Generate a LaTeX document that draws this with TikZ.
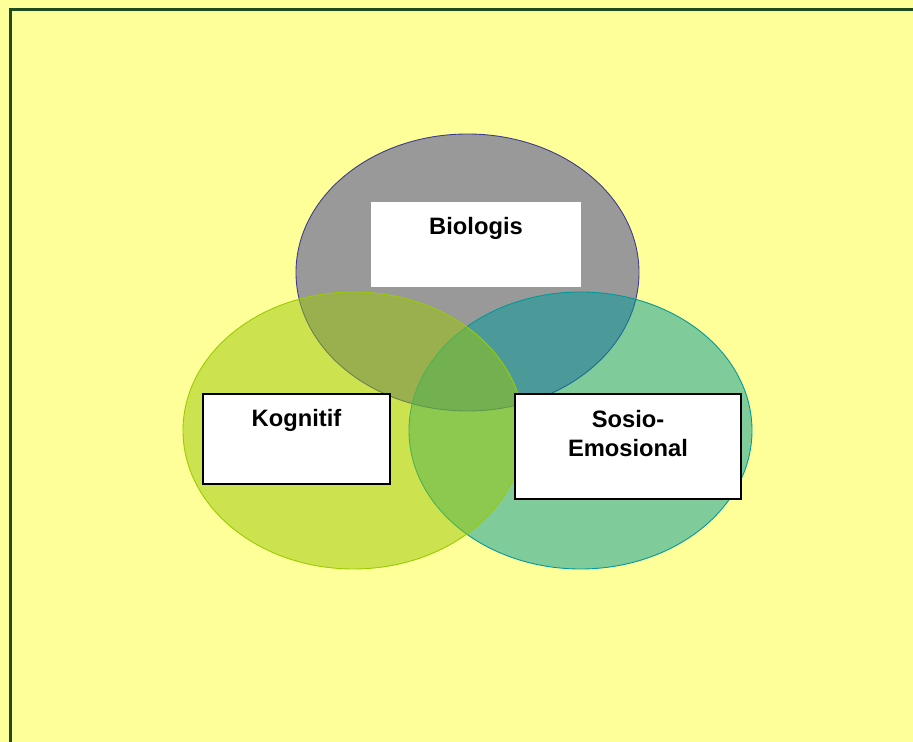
\documentclass[tikz,border=0pt]{standalone}
\usepackage{fontspec}
\setmainfont{Liberation Sans}
\definecolor{bgyellow}{HTML}{FFFF99}
\definecolor{framegreen}{HTML}{1E4B1E}
\definecolor{biogray}{HTML}{999999}
\definecolor{bioline}{HTML}{3B3B8F}
\definecolor{kogfill}{RGB}{155,199,7}
\definecolor{kogline}{HTML}{99CC00}
\definecolor{sosfill}{RGB}{0,153,153}
\definecolor{sosline}{HTML}{009999}
\begin{document}
\begin{tikzpicture}[x=0.2mm, y=-0.2mm,
    labelbox/.style={rectangle, fill=white, inner sep=0pt},
    labeltext/.style={font=\fontsize{13.5}{16.5}\selectfont\bfseries, inner sep=0pt, align=center}]
  % page and frame
  \clip (0,0) rectangle (913,742);
  \fill[bgyellow] (0,0) rectangle (913,742);
  \draw[framegreen, line width=1.6pt] (10.5,9.5) rectangle (940,770);

  % the three sets
  \filldraw[fill=biogray, draw=bioline, line width=0.5pt] (467.5,272.5) ellipse [x radius=171.5, y radius=138.5];
  \filldraw[fill=sosfill, fill opacity=0.5, draw=sosline, line width=0.5pt] (580.5,430.5) ellipse [x radius=171.5, y radius=138.5];
  \filldraw[fill=kogfill, fill opacity=0.5, draw=kogline, line width=0.5pt] (353.5,430.5) ellipse [x radius=170.5, y radius=138.5];

  % boxes
  \node[labelbox, minimum width=42mm, minimum height=17mm] (biobox) at (476,244.5) {};
  \node[labelbox, draw=black, line width=1.1pt, minimum width=37.4mm, minimum height=18mm] (kogbox) at (296.5,439) {};
  \node[labelbox, draw=black, line width=1.1pt, minimum width=45.2mm, minimum height=21mm] (sosbox) at (628,446.5) {};

  \node[labeltext, anchor=base] (biotext) at (476,235) {Biologis};
  \node[labeltext, anchor=base] (kogtext) at (296.5,427) {Kognitif};
  \node[labeltext, anchor=north] (sostext) at (628,410) {Sosio-\\Emosional};
\end{tikzpicture}
\end{document}
